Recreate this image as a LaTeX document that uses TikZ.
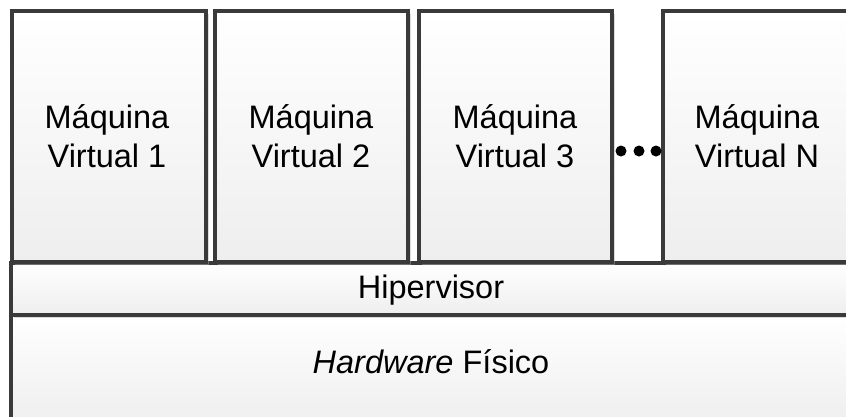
\documentclass[tikz,border=0pt]{standalone}
\usepackage{fontspec}
\setmainfont{Liberation Sans}
\usetikzlibrary{shadows}
\definecolor{boxline}{HTML}{3A3A3A}
\definecolor{boxbottom}{HTML}{EEEEEE}
\tikzset{
  layerbox/.style={draw=boxline, line width=3.6pt, top color=white, bottom color=boxbottom,
    rectangle, anchor=north west, inner sep=0pt, outer sep=0pt,
    drop shadow={shadow xshift=3pt, shadow yshift=-3pt, fill=gray!60, opacity=0.45}},
  label/.style={align=center, inner sep=0pt, font=\fontsize{32.5}{39}\selectfont},
  dot/.style={circle, fill=black, inner sep=0pt, minimum size=11pt}
}
\begin{document}
\begin{tikzpicture}[x=1pt,y=-1pt]
  \useasboundingbox (0,0) rectangle (846,416);
  \clip (0,0) rectangle (846,416);
  \fill[white] (0,0) rectangle (846,416);
  % physical hardware and hypervisor layers
  \node[layerbox, minimum width=870pt, minimum height=110pt] (hw) at (11,315) {};
  \node[label] (hwt) at (431,362) {\textit{Hardware} Físico};
  \node[layerbox, minimum width=870pt, minimum height=52pt] (hyp) at (11,263) {};
  \node[label] (hypt) at (431,290) {Hipervisor};
  % virtual machines
  \node[layerbox, minimum width=194pt, minimum height=251pt] (vm1) at (12,11) {};
  \node[layerbox, minimum width=193pt, minimum height=251pt] (vm2) at (215,11) {};
  \node[layerbox, minimum width=193pt, minimum height=251pt] (vm3) at (419,11) {};
  \node[layerbox, minimum width=230pt, minimum height=251pt] (vmn) at (663,11) {};
  \node[label] (vm1t) at (107,136) {Máquina\\Virtual 1};
  \node[label] (vm2t) at (311,136) {Máquina\\Virtual 2};
  \node[label] (vm3t) at (515,136) {Máquina\\Virtual 3};
  \node[label] (vmnt) at (757,136) {Máquina\\Virtual N};
  % ellipsis between the machines
  \node[dot] (d1) at (621,151) {};
  \node[dot] (d2) at (639,151) {};
  \node[dot] (d3) at (656,151) {};
\end{tikzpicture}
\end{document}
